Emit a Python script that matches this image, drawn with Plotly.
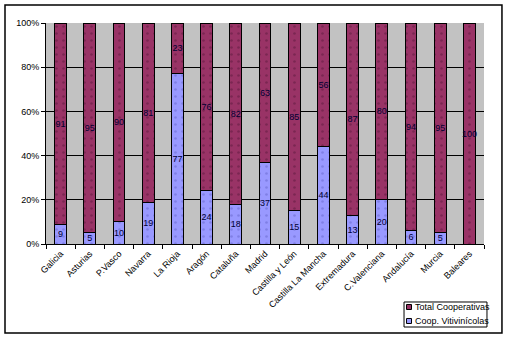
import plotly.graph_objects as go

categories = ["Galicia", "Asturias", "P.Vasco", "Navarra", "La Rioja", "Aragón", "Cataluña",
              "Madrid", "Castilla y León", "Castilla La Mancha", "Extremadura", "C.Valenciana",
              "Andalucía", "Murcia", "Baleares"]
coop_viti = [9, 5, 10, 19, 77, 24, 18, 37, 15, 44, 13, 20, 6, 5, 0]
total_coop = [91, 95, 90, 81, 23, 76, 82, 63, 85, 56, 87, 80, 94, 95, 100]
y_ticks = [0, 20, 40, 60, 80, 100]
y_tick_labels = [f"{v}%" for v in y_ticks]
series_names = ["Total Cooperativas", "Coop. Vitivinícolas"]

FONT = "Arial, Liberation Sans, sans-serif"
C_TOTAL = "#993366"
C_VITI = "#9999ff"

def labels(vals):
    return [str(v) if v > 0 else "" for v in vals]

fig = go.Figure()
fig.add_trace(go.Bar(
    x=categories, y=coop_viti, name=series_names[1],
    marker=dict(color=C_VITI, line=dict(color="black", width=1),
                pattern=dict(shape=".", fgcolor="#6666cc", size=7, solidity=0.12)),
    text=labels(coop_viti), textposition="inside", insidetextanchor="middle",
    textangle=0, constraintext="none",
    textfont=dict(family=FONT, size=9, color="#000033"),
))
fig.add_trace(go.Bar(
    x=categories, y=total_coop, name=series_names[0],
    marker=dict(color=C_TOTAL, line=dict(color="black", width=1),
                pattern=dict(shape=".", fgcolor="#5e1a3e", size=7, solidity=0.12)),
    text=labels(total_coop), textposition="inside", insidetextanchor="middle",
    textangle=0, constraintext="none",
    textfont=dict(family=FONT, size=9, color="#000033"),
))

# compact legend box (Excel style) built from layout shapes/annotations
shapes = [
    dict(type="rect", xref="paper", yref="paper",
         x0=-0.0936, x1=1.041, y0=-0.4027, y1=1.0814,
         line=dict(color="black", width=1.5), fillcolor="rgba(0,0,0,0)", layer="below"),
    dict(type="rect", xref="paper", yref="paper",
         x0=0.8174, x1=1.0068, y0=-0.3756, y1=-0.2624,
         line=dict(color="black", width=1), fillcolor="white"),
]
annotations = []
leg_rows = [(-0.2851, C_TOTAL, series_names[0]), (-0.3484, C_VITI, series_names[1])]
for yc, col, name in leg_rows:
    shapes.append(dict(type="rect", xref="paper", yref="paper",
                       x0=0.8231, x1=0.8345, y0=yc - 0.0113, y1=yc + 0.0113,
                       line=dict(color="black", width=1), fillcolor=col))
    annotations.append(dict(xref="paper", yref="paper", x=0.8379, y=yc,
                            xanchor="left", yanchor="middle", showarrow=False,
                            text=name, font=dict(family=FONT, size=9, color="black")))

fig.update_layout(
    width=508, height=338,
    barmode="stack", bargap=0.6,
    margin=dict(l=46, r=24, t=23, b=94),
    paper_bgcolor="white", plot_bgcolor="#c2c2c2",
    font=dict(family=FONT, size=9, color="black"),
    showlegend=False,
    shapes=shapes, annotations=annotations,
)
fig.update_xaxes(
    type="category", tickangle=-45, tickson="boundaries",
    ticks="outside", ticklen=4, tickcolor="black",
    showline=True, linecolor="black", linewidth=1,
    showgrid=False, tickfont=dict(family=FONT, size=9, color="black"),
)
fig.update_yaxes(
    range=[0, 100], tickmode="array", tickvals=y_ticks, ticktext=y_tick_labels,
    ticks="outside", ticklen=4, tickcolor="black",
    showline=True, linecolor="black", linewidth=1,
    showgrid=True, gridcolor="black", gridwidth=1, zeroline=False,
    tickfont=dict(family=FONT, size=9, color="black"),
)

fig.write_html("out.html")
